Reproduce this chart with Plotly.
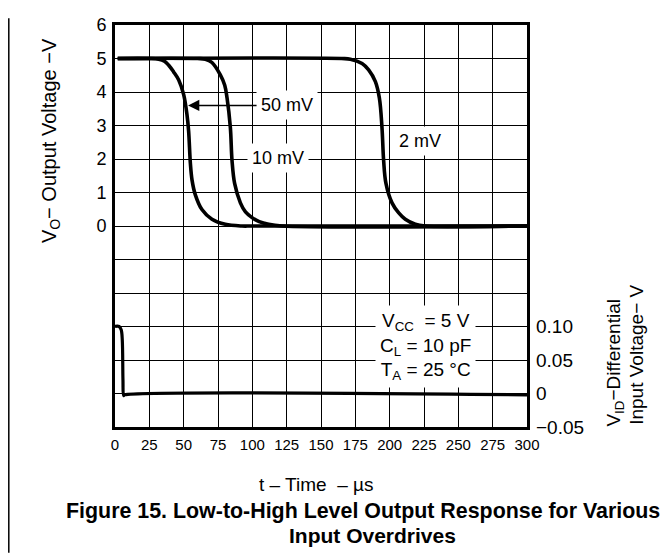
import plotly.graph_objects as go

# ---- data ----
time_ticks = [0, 25, 50, 75, 100, 125, 150, 175, 200, 225, 250, 275, 300]
vo_tick_vals = [0, 1, 2, 3, 4, 5, 6]
vo_minor_grid = [-6, -5, -4, -3, -2, -1]
vid_tick_vals = [-0.05, 0, 0.05, 0.10]
vid_tick_text = ["\u22120.05", "0", "0.05", "0.10"]

t_50mv = [2, 25, 31.8, 36, 39.1, 42.7, 46.4, 50, 52.4, 53.6, 54.9, 56.1, 58.5, 63.3, 70.6, 80.3, 92.5, 100, 300]
v_50mv = [5, 5, 4.98, 4.92, 4.80, 4.60, 4.36, 3.92, 3.33, 2.84, 1.86, 1.37, 0.93, 0.49, 0.20, 0.05, 0.0, 0.0, 0.0]

t_10mv = [2, 60, 65.8, 70.6, 76.7, 79.9, 81.6, 84.0, 85.2, 87.1, 91.3, 95, 99.8, 105, 111.9, 121.6, 300]
v_10mv = [5, 5, 4.98, 4.88, 4.51, 4.20, 3.82, 2.94, 1.96, 1.27, 0.69, 0.42, 0.25, 0.13, 0.05, 0.0, 0.0]

t_2mv = [2, 165, 171.4, 179.9, 184.7, 189.6, 192.5, 194.4, 195.6, 197.3, 201.7, 206.6, 211.4, 218.7, 226, 300]
v_2mv = [5, 5, 4.98, 4.85, 4.66, 4.31, 3.82, 2.94, 1.96, 1.27, 0.69, 0.39, 0.20, 0.05, 0.0, 0.0]

t_vid = [0, 3, 4.5, 5.3, 5.8, 6.3, 7, 300]
v_vid = [0.10, 0.10, 0.095, 0.08, 0.02, -0.003, -0.002, -0.002]

# ---- figure ----
FONT = "Liberation Sans, Arial, sans-serif"
# the page body adds an 8 px offset, so the figure is 8 px smaller than the window
W, H = 663, 548
L, R, T, B = 107, 144, 7, 129
PW, PH = W - L - R, H - T - B
OFF = 8  # page offset of the figure


def px(xp):
    """page x pixel -> paper x"""
    return (xp - OFF - L) / PW


def py(yp):
    """page y pixel -> paper y"""
    return (H - B - (yp - OFF)) / PH


def fnt(size):
    return dict(family=FONT, size=size, color="black")


fig = go.Figure()
line_style = dict(color="black", width=3.6)
for tt, vv, name in [(t_50mv, v_50mv, "50 mV"), (t_10mv, v_10mv, "10 mV"), (t_2mv, v_2mv, "2 mV")]:
    fig.add_trace(go.Scatter(x=tt, y=vv, mode="lines", line=line_style, name=name,
                             line_shape="spline", showlegend=False))
fig.add_trace(go.Scatter(x=t_vid, y=v_vid, mode="lines", line=dict(color="black", width=3.2),
                         yaxis="y2", showlegend=False, line_shape="spline"))

fig.update_layout(
    width=W, height=H,
    margin=dict(l=L, r=R, t=T, b=B),
    paper_bgcolor="white", plot_bgcolor="white",
    font=fnt(16),
    xaxis=dict(range=[0, 300], tickmode="array", tickvals=time_ticks,
               ticktext=[str(v) for v in time_ticks],
               showgrid=True, gridcolor="black", gridwidth=1.4, zeroline=False,
               showline=True, mirror=True, linecolor="black", linewidth=2.6,
               ticks="", tickfont=fnt(15), ticklabelstandoff=2),
    yaxis=dict(range=[-6, 6], tickmode="array", tickvals=vo_tick_vals,
               ticktext=[str(v) for v in vo_tick_vals],
               showgrid=True, gridcolor="black", gridwidth=1.4, zeroline=False,
               showline=True, mirror=True, linecolor="black", linewidth=2.6,
               ticks="", tickfont=fnt(18), ticklabelstandoff=2,
               minor=dict(tickmode="array", tickvals=vo_minor_grid, showgrid=True,
                          gridcolor="black", gridwidth=1.4, ticks="")),
    yaxis2=dict(range=[-0.05, 0.55], overlaying="y", side="right", tickmode="array",
                tickvals=vid_tick_vals, ticktext=vid_tick_text, showgrid=False,
                zeroline=False, showline=False, ticks="", tickfont=fnt(19),
                ticklabelstandoff=8),
)

# curve labels
fig.add_annotation(x=53.2, y=3.6, xref="x", yref="y", text="50 mV", showarrow=True,
                   ax=99, ay=0, arrowhead=2, arrowsize=1.5, arrowwidth=1.5,
                   arrowcolor="black", standoff=0, bgcolor="white", borderpad=4,
                   font=fnt(18))
fig.add_annotation(x=118.5, y=2.04, xref="x", yref="y", text="10 mV", showarrow=False,
                   bgcolor="white", borderpad=4, font=fnt(18))
fig.add_annotation(x=222, y=2.53, xref="x", yref="y", text="2 mV", showarrow=False,
                   bgcolor="white", borderpad=4, font=fnt(18))

# conditions box
fig.add_annotation(x=226, y=-3.6, xref="x", yref="y",
                   text="V<sub>CC</sub>  = 5 V<br>C<sub>L</sub> = 10 pF<br>T<sub>A</sub> = 25 \u00b0C",
                   showarrow=False, bgcolor="white", borderpad=4, align="center",
                   font=fnt(19))


def page_text(xp, yp, text, size, angle=0):
    fig.add_annotation(x=px(xp), y=py(yp), xref="paper", yref="paper", text=text,
                       textangle=angle, showarrow=False, xanchor="center", yanchor="middle",
                       font=fnt(size))


# axis titles
page_text(50, 134, "V<sub>O</sub>\u2212 Output Voltage \u2212V", 20, -90)
page_text(615, 361, "V<sub>ID</sub>\u2212Differential", 19, -90)
page_text(637, 353, "Input Voltage\u2212 V", 19, -90)
page_text(316, 486, "t \u2013 Time  \u2013 \u00b5s", 19)

# caption
page_text(363, 513, "<b>Figure 15. Low-to-High Level Output Response for Various</b>", 21.4)
page_text(372, 538, "<b>Input Overdrives</b>", 21)

# page frame (left edge)
fig.add_shape(type="line", xref="paper", yref="paper", x0=px(8.8), x1=px(8.8), y0=py(8), y1=py(556),
              line=dict(color="black", width=1.5))

fig.write_html("out.html")
